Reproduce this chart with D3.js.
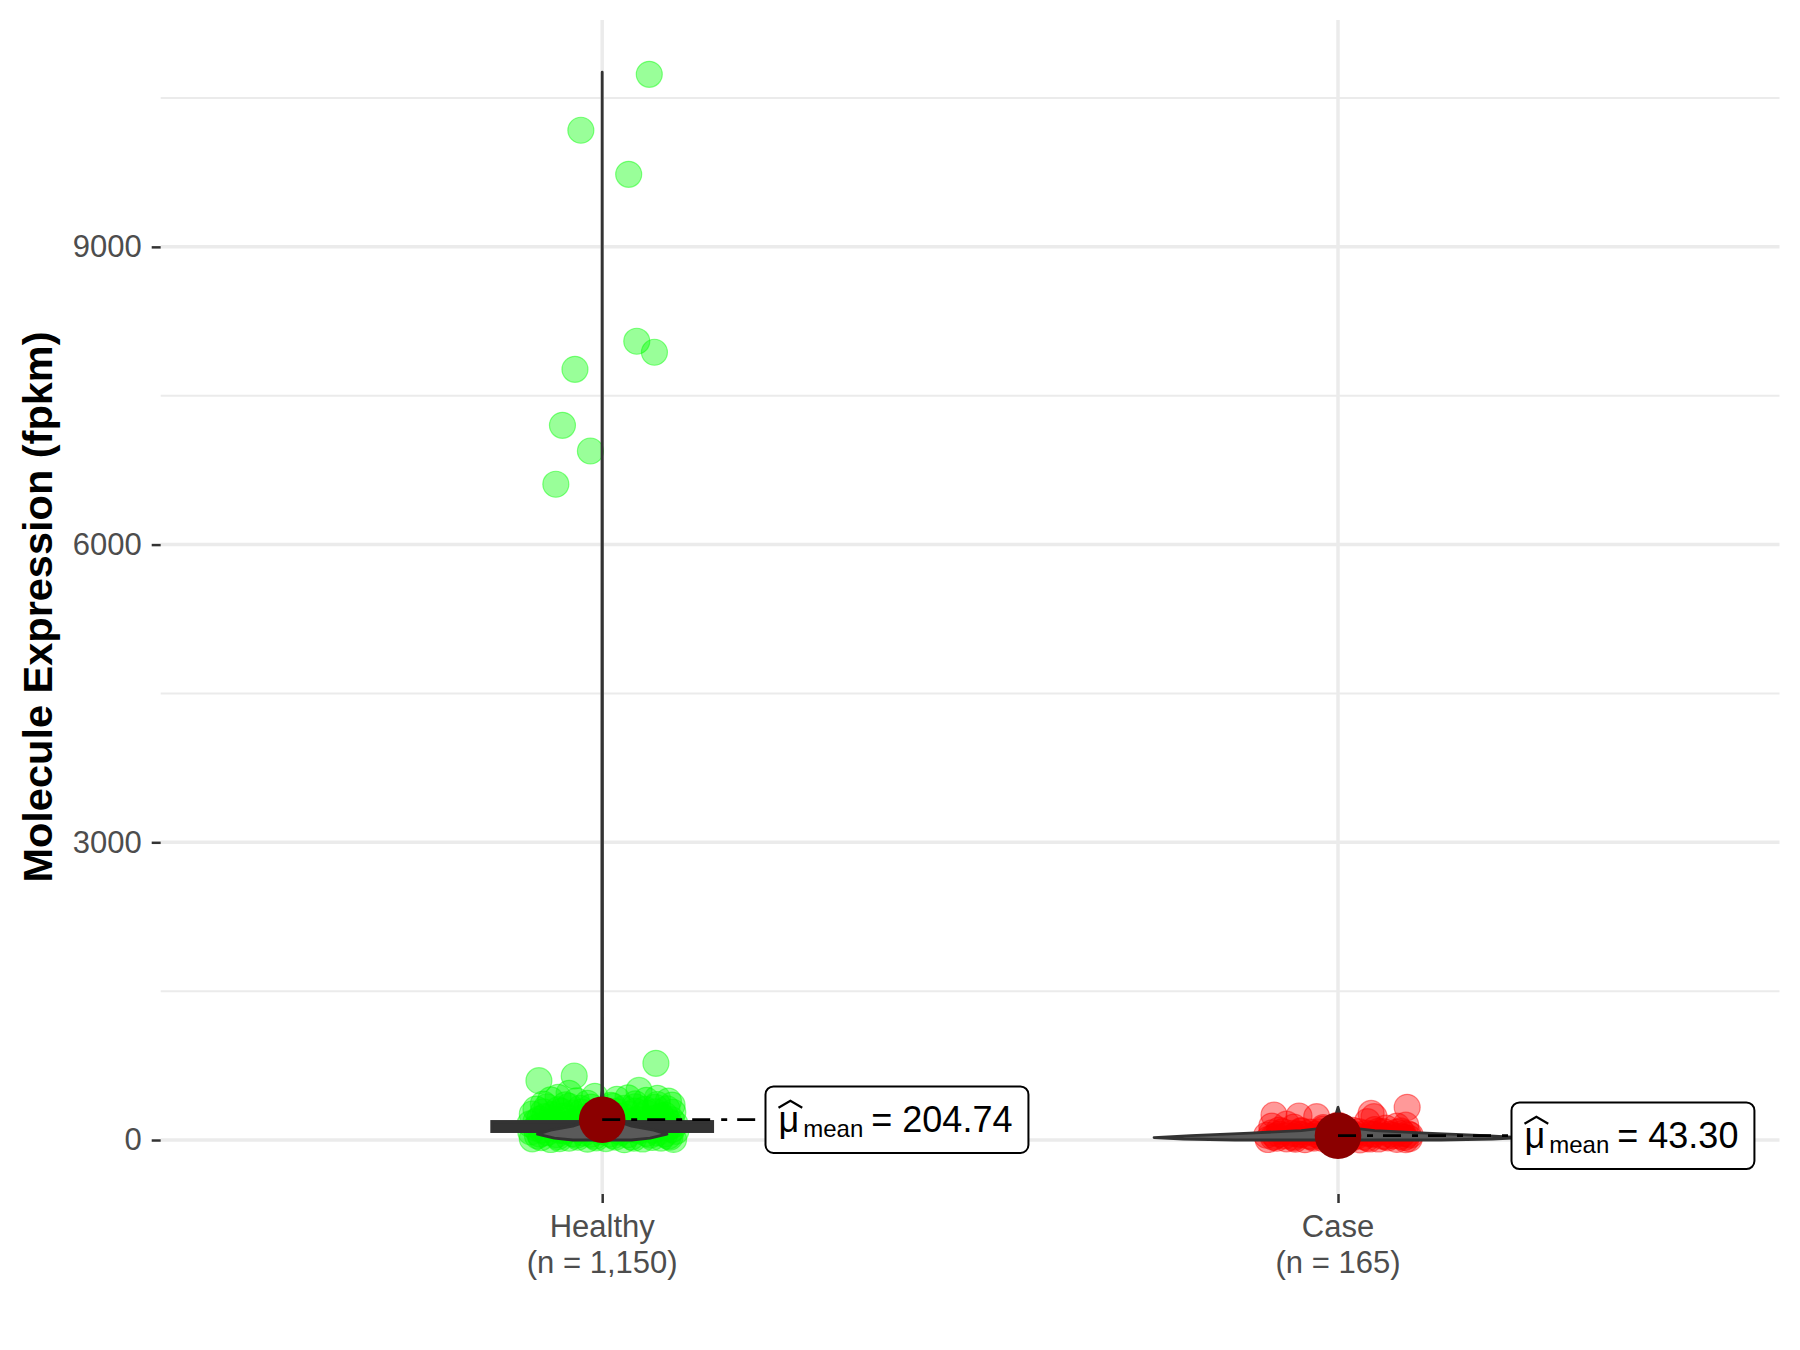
<!DOCTYPE html>
<html>
<head>
<meta charset="utf-8">
<script src="https://cdn.jsdelivr.net/npm/d3@7"></script>
<style>
  html, body { margin: 0; padding: 0; background: #fff; }
  svg { display: block; font-family: "Liberation Sans", Arial, sans-serif; }
</style>
</head>
<body>
<svg id="chart" width="1800" height="1350"></svg>
<script>
// ---------------- data ----------------
const categories = ["Healthy", "Case"];
const categoryCounts = ["1,150", "165"];
const meanValues = [204.74, 43.30];
const meanLabels = ["204.74", "43.30"];
const yTicks = [0, 3000, 6000, 9000];
const yMinorTicks = [1500, 4500, 7500, 10500];
const yDomain = [-544, 11286];

// [jitter (category units), value]
const healthyPoints = [
  [-0.095,12],[-0.07,5],[-0.045,18],[-0.02,8],[0.005,15],[0.03,3],[0.055,10],[0.08,20],[0.097,6],
  [-0.083,25],[-0.058,15],[-0.033,28],[-0.008,22],[0.018,30],[0.043,18],[0.068,26],[0.092,28],
  [-0.088,42],[-0.06,35],[-0.035,48],[-0.01,38],[0.015,45],[0.04,32],[0.065,50],[0.09,40],
  [-0.085,60],[-0.062,55],[-0.04,65],[-0.015,58],[0.01,62],[0.035,55],[0.06,66],[0.085,60],
  [-0.097,82],[-0.075,75],[-0.05,90],[-0.025,70],[0.0,85],[0.025,78],[0.05,92],[0.075,72],[0.1,88],
  [-0.082,100],[-0.058,98],[-0.03,105],[-0.005,102],[0.02,96],[0.045,104],[0.068,100],[0.095,108],
  [-0.09,122],[-0.062,115],[-0.038,130],[-0.012,118],[0.012,126],[0.038,112],[0.062,135],[0.088,120],
  [-0.085,140],[-0.06,145],[-0.035,138],[-0.008,142],[0.018,148],[0.043,136],[0.07,145],[0.093,140],
  [-0.098,162],[-0.072,170],[-0.048,155],[-0.022,168],[0.003,158],[0.028,172],[0.052,150],[0.078,165],[0.099,160],
  [-0.09,185],[-0.065,190],[-0.04,182],[-0.012,188],[0.015,185],[0.04,192],[0.065,180],[0.09,186],
  [-0.085,212],[-0.058,205],[-0.03,220],[-0.005,200],[0.02,215],[0.047,208],[0.072,222],[0.094,204],
  [-0.078,235],[-0.052,240],[-0.025,232],[0.0,238],[0.028,242],[0.055,234],[0.08,240],
  [-0.095,262],[-0.068,255],[-0.04,270],[-0.015,250],[0.01,265],[0.035,258],[0.06,272],[0.085,252],
  [-0.08,285],[-0.055,290],[-0.028,282],[0.018,288],[0.045,292],[0.072,285],[0.096,280],
  [-0.09,312],[-0.06,305],[-0.03,320],[0.0,300],[0.03,318],[0.058,308],[0.088,315],
  [-0.075,335],[-0.045,340],[-0.015,332],[0.015,338],[0.045,335],[0.072,330],
  [-0.08,362],[-0.05,355],[-0.02,370],[0.012,350],[0.045,365],[0.075,358],[0.095,352],
  [-0.07,405],[-0.035,395],[0.02,410],[0.06,400],[0.09,392],
  [-0.06,430],[-0.01,440],[0.035,425],[0.075,420],
  [-0.045,470],[0.05,500],[-0.086,598],[-0.038,645],[0.073,773],
  [0.064,10739],[-0.029,10175],[0.036,9731],[0.047,8049],[0.071,7938],
  [-0.037,7766],[-0.054,7202],[-0.016,6943],[-0.063,6608]
];
const casePoints = [
  [-0.095,5],[-0.07,12],[-0.045,3],[-0.02,15],[0.005,8],[0.03,2],[0.055,10],[0.08,6],[0.097,14],
  [-0.083,18],[-0.058,8],[-0.033,20],[-0.008,5],[0.018,18],[0.043,10],[0.068,22],[0.092,4],
  [-0.088,28],[-0.06,22],[-0.035,32],[-0.01,25],[0.015,30],[0.04,20],[0.065,35],[0.09,26],
  [-0.085,38],[-0.06,35],[-0.04,40],[-0.015,36],[0.01,42],[0.035,33],[0.06,40],[0.085,38],
  [-0.097,48],[-0.072,42],[-0.05,55],[-0.025,45],[0.0,52],[0.025,40],[0.05,58],[0.075,44],[0.098,50],
  [-0.08,60],[-0.055,62],[-0.03,58],[-0.005,60],[0.02,64],[0.045,60],[0.07,58],[0.095,62],
  [-0.09,72],[-0.062,68],[-0.038,80],[-0.012,65],[0.012,75],[0.038,70],[0.062,85],[0.088,66],
  [-0.075,85],[-0.05,88],[-0.025,82],[0.0,90],[0.028,84],[0.055,88],[0.08,80],
  [-0.08,100],[-0.05,95],[-0.02,110],[0.02,98],[0.05,105],[0.085,92],
  [-0.06,130],[0.065,120],[0.0,150],[-0.09,140],[0.092,150],
  [-0.07,160],[0.04,185],[0.08,140],[-0.02,125],[0.045,268],
  [0.094,329],[-0.087,252],[-0.053,242],[-0.029,235],[0.049,235]
];
// box stats [q1, median, q3]
const healthyBox = [86, 130, 186];
const caseBox = [12, 30, 55];
// violin profiles [value, half width (category units)]
const healthyViolin = [[0,0.04],[20,0.065],[60,0.088],[100,0.07],[140,0.04],[190,0.02],[260,0.008],[350,0.002],[500,0.0005],[10760,0]];
const caseViolin = [[0,0.14],[10,0.21],[25,0.25],[45,0.2],[70,0.12],[95,0.05],[120,0.02],[160,0.008],[250,0.003],[330,0]];

const groups = [
  {name: categories[0], n: categoryCounts[0], pts: healthyPoints, box: healthyBox, violin: healthyViolin,
   mean: meanValues[0], label: meanLabels[0], color: "0,255,0"},
  {name: categories[1], n: categoryCounts[1], pts: casePoints, box: caseBox, violin: caseViolin,
   mean: meanValues[1], label: meanLabels[1], color: "255,0,0"}
];

// ---------------- layout ----------------
const panel = {left: 160.7, right: 1779.5, top: 20, bottom: 1194};
const svg = d3.select("#chart");

const x = d3.scalePoint().domain(categories).range([panel.left, panel.right]).padding(0.6);
const step = x.step();
const y = d3.scaleLinear().domain(yDomain).range([panel.bottom, panel.top]);

// grid
const grid = svg.append("g");
grid.selectAll(".minor").data(yMinorTicks).join("line")
  .attr("x1", panel.left).attr("x2", panel.right)
  .attr("y1", d => y(d)).attr("y2", d => y(d))
  .attr("stroke", "#EBEBEB").attr("stroke-width", 2);
grid.selectAll(".major").data(yTicks).join("line")
  .attr("x1", panel.left).attr("x2", panel.right)
  .attr("y1", d => y(d)).attr("y2", d => y(d))
  .attr("stroke", "#EBEBEB").attr("stroke-width", 3.5);
grid.selectAll(".vmajor").data(categories).join("line")
  .attr("x1", d => x(d)).attr("x2", d => x(d))
  .attr("y1", panel.top).attr("y2", panel.bottom)
  .attr("stroke", "#EBEBEB").attr("stroke-width", 3.5);

// y axis
const yAxis = svg.append("g").attr("transform", `translate(${panel.left},0)`)
  .call(d3.axisLeft(y).tickValues(yTicks).tickSize(9).tickPadding(10).tickFormat(d3.format("d")));
yAxis.select(".domain").remove();
yAxis.selectAll(".tick line").attr("stroke", "#333333").attr("stroke-width", 2.5);
yAxis.selectAll(".tick text").attr("fill", "#4D4D4D").style("font-size", "31px")
  .style("font-family", "'Liberation Sans', Arial, sans-serif");

// x axis
const xAxis = svg.append("g").attr("transform", `translate(0,${panel.bottom})`)
  .call(d3.axisBottom(x).tickSize(9).tickFormat(""));
xAxis.select(".domain").remove();
xAxis.selectAll(".tick line").attr("stroke", "#333333").attr("stroke-width", 2.5);
groups.forEach(g => {
  const t = svg.append("text").attr("text-anchor", "middle").attr("fill", "#4D4D4D")
    .style("font-size", "31px");
  t.append("tspan").attr("x", x(g.name)).attr("y", 1237).text(g.name);
  t.append("tspan").attr("x", x(g.name)).attr("y", 1273).text(`(n = ${g.n})`);
});

// y title
svg.append("text")
  .attr("transform", `translate(52,${(panel.top + panel.bottom) / 2}) rotate(-90)`)
  .attr("text-anchor", "middle").attr("fill", "#000")
  .style("font-size", "41.5px").style("font-weight", "bold")
  .text("Molecule Expression (fpkm)");

// points
groups.forEach(g => {
  svg.append("g").selectAll("circle").data(g.pts).join("circle")
    .attr("cx", d => x(g.name) + d[0] * step)
    .attr("cy", d => y(d[1]))
    .attr("r", 13)
    .attr("fill", `rgba(${g.color},0.4)`)
    .attr("stroke", `rgba(${g.color},0.45)`)
    .attr("stroke-width", 1.2);
});

// boxes
groups.forEach(g => {
  const cx = x(g.name), hw = 0.15 * step;
  svg.append("rect")
    .attr("x", cx - hw).attr("width", 2 * hw)
    .attr("y", y(g.box[2])).attr("height", y(g.box[0]) - y(g.box[2]))
    .attr("fill", "#333333").attr("stroke", "#333333").attr("stroke-width", 3);
});

// violins
groups.forEach(g => {
  const cx = x(g.name);
  const area = d3.area()
    .y(d => y(d[0]))
    .x0(d => cx - d[1] * step)
    .x1(d => cx + d[1] * step)
    .curve(d3.curveLinear);
  svg.append("path").datum(g.violin)
    .attr("d", area)
    .attr("fill", "#5a5a5a").attr("stroke", "#333333").attr("stroke-width", 2.8)
    .attr("stroke-linejoin", "round");
});

// mean points
groups.forEach(g => {
  svg.append("circle").attr("cx", x(g.name)).attr("cy", y(g.mean)).attr("r", 23.3)
    .attr("fill", "#8B0000");
});

// mean labels
const labelLeft = [765.5, 1511.5];
groups.forEach((g, i) => {
  const cy = y(g.mean);
  const lx = labelLeft[i];
  const lg = svg.append("g");
  lg.append("line")
    .attr("x1", x(g.name)).attr("x2", lx).attr("y1", cy).attr("y2", cy)
    .attr("stroke", "#000").attr("stroke-width", 2.7)
    .attr("stroke-dasharray", "18,11,6,10");
  const boxRect = lg.append("rect");
  const base = cy + 12;
  const mu = lg.append("text").attr("x", lx + 13).attr("y", base)
    .style("font-size", "36px").attr("fill", "#000").text("μ");
  const muW = mu.node().getComputedTextLength();
  const sub = lg.append("text").attr("x", lx + 13 + muW + 4).attr("y", base + 5)
    .style("font-size", "24px").attr("fill", "#000").text("mean");
  const subW = sub.node().getComputedTextLength();
  const eq = lg.append("text").attr("x", lx + 13 + muW + 4 + subW + 8).attr("y", base)
    .style("font-size", "36px").attr("fill", "#000").text("= " + g.label);
  const eqW = eq.node().getComputedTextLength();
  const hx = lx + 13;
  lg.append("path")
    .attr("d", `M${hx},${base - 24}L${hx + (muW + 3) / 2},${base - 31}L${hx + muW + 3},${base - 24}`)
    .attr("fill", "none").attr("stroke", "#000").attr("stroke-width", 2.2);
  const right = lx + 13 + muW + 4 + subW + 8 + eqW + 16;
  boxRect.attr("x", lx).attr("y", cy - 33.3).attr("width", right - lx).attr("height", 66.6)
    .attr("rx", 8).attr("ry", 8)
    .attr("fill", "#fff").attr("stroke", "#000").attr("stroke-width", 2);
});
</script>
</body>
</html>
